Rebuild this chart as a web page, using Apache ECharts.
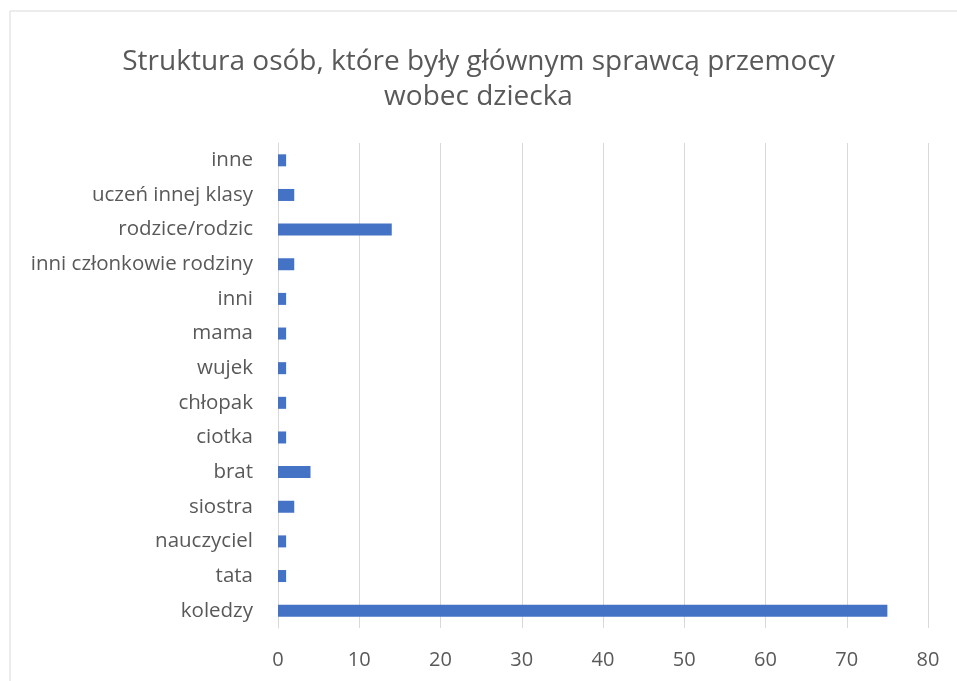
<!DOCTYPE html>
<html><head><meta charset="utf-8">
<script src="https://cdn.jsdelivr.net/npm/echarts@6/dist/echarts.min.js"></script>
<style>html,body{margin:0;padding:0;background:#fff}#c{width:957px;height:681px}</style>
</head><body><div id="c"></div>
<script>
const titleText = 'Struktura osób, które były głównym sprawcą przemocy\nwobec dziecka';
const categories = ['koledzy','tata','nauczyciel','siostra','brat','ciotka','chłopak','wujek','mama','inni','inni członkowie rodziny','rodzice/rodzic','uczeń innej klasy','inne'];
const values = [75,1,1,2,4,1,1,1,1,1,2,14,2,1];
const xTicks = [0,10,20,30,40,50,60,70,80];

const chart = echarts.init(document.getElementById('c'), null, {renderer:'canvas'});
chart.setOption({
  animation:false,
  backgroundColor:'#fff',
  graphic:[{type:'rect',shape:{x:10,y:11,width:1000,height:1000},style:{fill:'none',stroke:'#d9d9d9',lineWidth:1}}],
  title:{text:titleText,left:'center',top:40,textStyle:{fontFamily:'Open Sans',fontWeight:'normal',fontSize:28,color:'#595959',lineHeight:35}},
  grid:{left:278,right:29,top:143,bottom:53,containLabel:false},
  xAxis:{type:'value',min:xTicks[0],max:xTicks[xTicks.length-1],interval:10,
    axisLine:{show:false},axisTick:{show:false},
    axisLabel:{fontFamily:'Open Sans',fontSize:20,color:'#595959',margin:22},
    splitLine:{show:true,lineStyle:{color:'#d9d9d9',width:1}}},
  yAxis:{type:'category',data:categories,
    axisLine:{show:true,lineStyle:{color:'#d9d9d9'}},axisTick:{show:false},
    axisLabel:{fontFamily:'Open Sans',fontSize:20.5,color:'#595959',margin:25}},
  series:[{type:'bar',data:values,barWidth:12,itemStyle:{color:'#4472C4'}}]
});
</script></body></html>
